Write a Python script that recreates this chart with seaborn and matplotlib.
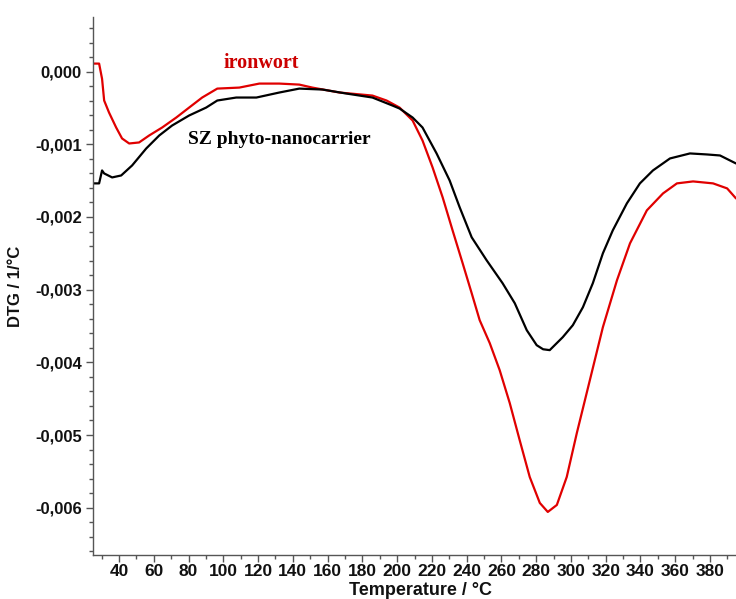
import numpy as np
import pandas as pd
import matplotlib
matplotlib.use("Agg")
import matplotlib.pyplot as plt
from matplotlib.ticker import MultipleLocator, FuncFormatter
import seaborn as sns

# ---- data ----
ironwort_T = [25, 28.5, 30.2, 31.4, 34.2, 38.3, 41.7, 45.8, 51.5, 57.3, 64.8, 72.9, 80.3,
              87.8, 96.5, 109.2, 120.7, 132.2, 143.7, 151.2, 166.8, 185.8, 193.9, 201.4,
              208.9, 214.6, 220.4, 226.2, 231.9, 237.7, 242.9, 247.5, 253.3, 259.0, 264.8,
              270.5, 276.3, 282.1, 286.7, 291.9, 297.6, 303.4, 310.9, 318.4, 326.5, 334.0,
              343.7, 353.0, 361.0, 370.3, 381.8, 389.9, 395.0]
ironwort_V = [0.00011, 0.00011, -0.00010, -0.000398, -0.000563, -0.000769, -0.00092,
              -0.000989, -0.000975, -0.000879, -0.000769, -0.000632, -0.000495, -0.000357,
              -0.000234, -0.00022, -0.000165, -0.000165, -0.000179, -0.00022, -0.000288,
              -0.00033, -0.000398, -0.000495, -0.000673, -0.000948, -0.001319, -0.001731,
              -0.002184, -0.002637, -0.003049, -0.00342, -0.003736, -0.004107, -0.00456,
              -0.005069, -0.005577, -0.005934, -0.006058, -0.005962, -0.005577, -0.004973,
              -0.004245, -0.003516, -0.002871, -0.002363, -0.001909, -0.001676, -0.001538,
              -0.001511, -0.001538, -0.001607, -0.001745]

sz_T = [25, 28.5, 30.2, 31.4, 36.0, 41.2, 47.5, 55.6, 63.1, 70.5, 80.3, 90.1, 96.5, 107.4,
        119.0, 132.2, 143.7, 157.0, 170.8, 185.8, 197.3, 201.4, 208.9, 214.6, 222.7, 230.2,
        236.0, 242.9, 251.5, 260.7, 267.7, 274.6, 280.3, 284.0, 287.8, 295.3, 301.1, 306.9,
        312.6, 318.4, 324.1, 332.2, 339.7, 347.2, 357.0, 368.5, 378.3, 385.8, 395.0]
sz_V = [-0.001538, -0.001538, -0.00136, -0.001401, -0.001456, -0.001429, -0.001291,
        -0.001058, -0.000879, -0.000742, -0.000604, -0.000495, -0.000398, -0.000357,
        -0.000357, -0.000288, -0.000234, -0.000247, -0.000302, -0.000357, -0.000467,
        -0.000508, -0.000632, -0.000769, -0.001126, -0.001497, -0.001868, -0.00228,
        -0.002596, -0.002912, -0.003187, -0.003558, -0.003764, -0.00382, -0.003832,
        -0.003654, -0.003489, -0.003242, -0.002912, -0.0025, -0.002184, -0.001813,
        -0.001538, -0.00136, -0.001195, -0.001126, -0.00114, -0.001154, -0.001264]

series_names = ["ironwort", "SZ phyto-nanocarrier"]
x_label = "Temperature / °C"
y_label = "DTG / 1/°C"

df = pd.concat([
    pd.DataFrame({"T": ironwort_T, "V": ironwort_V, "s": series_names[0]}),
    pd.DataFrame({"T": sz_T, "V": sz_V, "s": series_names[1]}),
])

sns.set_theme(style="white")
plt.rcParams["font.family"] = ["Liberation Sans", "DejaVu Sans"]

fig = plt.figure(figsize=(7.36, 5.99), dpi=100)
ax = fig.add_axes([0.1264, 0.0735, 0.8736, 0.898])

sns.lineplot(data=df, x="T", y="V", hue="s", sort=False, estimator=None,
             palette={series_names[0]: "#e00000", series_names[1]: "#000000"},
             linewidth=1.6, legend=False, ax=ax)
for ln in ax.get_lines():
    ln.set_solid_joinstyle("round")

ax.set_xlim(25, 395)
ax.set_ylim(-0.00665, 0.00075)

ax.xaxis.set_major_locator(MultipleLocator(20))
ax.xaxis.set_minor_locator(MultipleLocator(10))
ax.yaxis.set_major_locator(MultipleLocator(0.001))
ax.yaxis.set_minor_locator(MultipleLocator(0.0002))

def yfmt(v, pos):
    s = "{:.3f}".format(v).replace(".", ",")
    if s == "-0,000":
        s = "0,000"
    return s

ax.yaxis.set_major_formatter(FuncFormatter(yfmt))
ax.xaxis.set_major_formatter(FuncFormatter(lambda v, p: "{:d}".format(int(round(v)))))

for side in ["top", "right"]:
    ax.spines[side].set_visible(False)
for side in ["left", "bottom"]:
    ax.spines[side].set_color("#555555")
    ax.spines[side].set_linewidth(1.0)

ax.tick_params(axis="both", which="major", direction="out", length=5, width=1,
               color="#555555", bottom=True, left=True)
ax.tick_params(axis="both", which="minor", direction="out", length=3, width=1,
               color="#555555", bottom=True, left=True)
ax.tick_params(axis="y", which="major", labelsize=12, pad=3)
ax.tick_params(axis="x", which="major", labelsize=12.5, pad=1.5)
for lab in ax.get_xticklabels() + ax.get_yticklabels():
    lab.set_fontweight("bold")
    lab.set_color("#111111")

ax.set_xlabel(x_label, fontsize=13, fontweight="bold", color="#111111")
ax.xaxis.set_label_coords(0.51, -0.050)
ax.set_ylabel(y_label, fontsize=12, fontweight="bold", labelpad=9, color="#111111")

ax.text(121.8, 0.000055, series_names[0], color="#cc0000", fontsize=14.5,
        fontweight="bold", family=["Liberation Serif", "DejaVu Serif"],
        ha="center", va="baseline")
ax.text(132.2, -0.00099, series_names[1], color="#000000", fontsize=14,
        fontweight="bold", family=["Liberation Serif", "DejaVu Serif"],
        ha="center", va="baseline")

fig.savefig("out.png", dpi=100)
